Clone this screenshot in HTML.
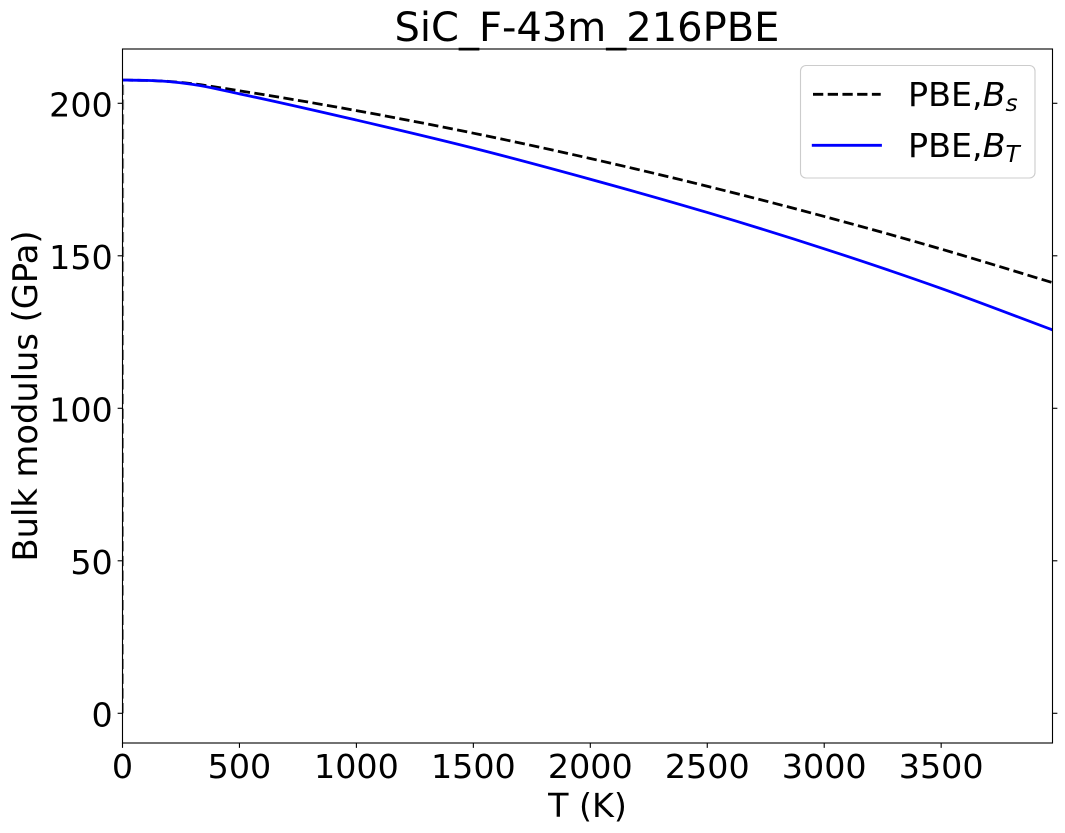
<!DOCTYPE html>
<html>
<head>
<meta charset="utf-8">
<title>SiC_F-43m_216PBE</title>
<style>
html,body{margin:0;padding:0;background:#fff;}
svg{display:block;}
text{font-family:"DejaVu Sans","Liberation Sans",sans-serif;fill:#000;}
</style>
</head>
<body>
<svg id="chart" xmlns="http://www.w3.org/2000/svg" width="1065" height="833" viewBox="0 0 1065 833">
  <defs><clipPath id="plot-clip"><rect x="122.5" y="49" width="930" height="694"/></clipPath></defs>
  <rect x="0" y="0" width="1065" height="833" fill="#fff"/>
  <g id="series-layer" clip-path="url(#plot-clip)"></g>
  <g id="axis-layer"></g>
  <rect x="122.5" y="49" width="930" height="694" fill="none" stroke="#000" stroke-width="1.11"/>
  <text x="587" y="41" font-size="40" text-anchor="middle">SiC_F-43m_216PBE</text>
  <text x="587.5" y="817" font-size="33.33" text-anchor="middle">T (K)</text>
  <text transform="translate(37 396) rotate(-90)" font-size="33.7" text-anchor="middle">Bulk modulus (GPa)</text>
  <g>
    <rect x="800.5" y="65.5" width="234.5" height="112.5" rx="5.5" ry="5.5" fill="#fff" fill-opacity="0.8" stroke="#ccc" stroke-width="1.11"/>
    <line x1="813" y1="94.3" x2="880.7" y2="94.3" stroke="#000" stroke-width="2.78" stroke-dasharray="10.28 4.44"/>
    <text x="908" y="106" font-size="33.33">PBE,<tspan font-style="italic">B</tspan><tspan font-style="italic" font-size="23.3" dy="5">s</tspan></text>
    <line x1="813.2" y1="145.3" x2="880.5" y2="145.3" stroke="#00f" stroke-width="2.78" stroke-linecap="square"/>
    <text x="908" y="157" font-size="33.33">PBE,<tspan font-style="italic">B</tspan><tspan font-style="italic" font-size="23.3" dy="5">T</tspan></text>
  </g>
</svg>
<script>
const temperatures = [1, 100, 200, 300, 500, 1000, 1500, 2000, 2500, 3000, 3500, 3976];
const bulkAdiabatic = [207.6, 207.5, 207.15, 206.4, 204.1, 197.6, 190.2, 181.9, 172.8, 162.9, 152.2, 141.2];
const bulkIsothermal = [207.6, 207.5, 207.1, 206.2, 203.1, 194.5, 185.3, 175.1, 164.2, 152.3, 139.3, 125.7];
const adiabaticStart = [0, 0];
const xTickValues = [0, 500, 1000, 1500, 2000, 2500, 3000, 3500];
const yTickValues = [0, 50, 100, 150, 200];

const NS = 'http://www.w3.org/2000/svg';
const plot = { left: 122.5, right: 1052.5, top: 49, bottom: 743 };
const xDomain = [0, 3976];
const yDomain = [-9.74, 217.8];

function xScale(t) {
  return plot.left + (t - xDomain[0]) / (xDomain[1] - xDomain[0]) * (plot.right - plot.left);
}
function yScale(v) {
  return plot.bottom - (v - yDomain[0]) / (yDomain[1] - yDomain[0]) * (plot.bottom - plot.top);
}

// Monotone cubic path through the data points, in pixel space.
function smoothPath(xs, ys) {
  const n = xs.length;
  const px = xs.map(xScale);
  const py = ys.map(yScale);
  const slopes = [];
  for (let i = 0; i < n - 1; i++) {
    slopes.push((py[i + 1] - py[i]) / (px[i + 1] - px[i]));
  }
  const tangents = [slopes[0]];
  for (let i = 1; i < n - 1; i++) {
    const h0 = px[i] - px[i - 1];
    const h1 = px[i + 1] - px[i];
    tangents.push(slopes[i - 1] * slopes[i] <= 0 ? 0 : (h0 * slopes[i] + h1 * slopes[i - 1]) / (h0 + h1));
  }
  tangents.push(slopes[n - 2]);
  let d = '';
  for (let i = 0; i < n - 1; i++) {
    const h = (px[i + 1] - px[i]) / 3;
    d += ' C' + (px[i] + h).toFixed(2) + ' ' + (py[i] + tangents[i] * h).toFixed(2) + ' ' +
      (px[i + 1] - h).toFixed(2) + ' ' + (py[i + 1] - tangents[i + 1] * h).toFixed(2) + ' ' +
      px[i + 1].toFixed(2) + ' ' + py[i + 1].toFixed(2);
  }
  return { d: d, startX: px[0], startY: py[0] };
}

const seriesLayer = document.getElementById('series-layer');
const axisLayer = document.getElementById('axis-layer');

const adiabaticCurve = smoothPath(temperatures, bulkAdiabatic);

const adiabaticRise = document.createElementNS(NS, 'path');


adiabaticRise.setAttribute('d', 'M' + xScale(adiabaticStart[0]) + ' ' + yScale(adiabaticStart[1]) +
  ' L' + adiabaticCurve.startX + ' ' + adiabaticCurve.startY);
adiabaticRise.setAttribute('fill', 'none');
adiabaticRise.setAttribute('stroke', '#000');
adiabaticRise.setAttribute('stroke-opacity', '0.5');
adiabaticRise.setAttribute('stroke-width', '2.78');
adiabaticRise.setAttribute('stroke-dasharray', '10.28 4.44');
seriesLayer.appendChild(adiabaticRise);

const adiabaticLine = document.createElementNS(NS, 'path');


adiabaticLine.setAttribute('d', 'M' + adiabaticCurve.startX + ' ' + adiabaticCurve.startY + adiabaticCurve.d);
adiabaticLine.setAttribute('fill', 'none');
adiabaticLine.setAttribute('stroke', '#000');
adiabaticLine.setAttribute('stroke-width', '2.78');
adiabaticLine.setAttribute('stroke-dasharray', '10.28 4.44');
seriesLayer.appendChild(adiabaticLine);

const isothermalCurve = smoothPath(temperatures, bulkIsothermal);
const isothermalLine = document.createElementNS(NS, 'path');


isothermalLine.setAttribute('d', 'M' + isothermalCurve.startX + ' ' + isothermalCurve.startY + isothermalCurve.d);
isothermalLine.setAttribute('fill', 'none');
isothermalLine.setAttribute('stroke', '#00f');
isothermalLine.setAttribute('stroke-width', '2.78');
seriesLayer.appendChild(isothermalLine);

xTickValues.forEach(function (value) {
  const x = xScale(value);
  const tick = document.createElementNS(NS, 'line');
  
  
  tick.setAttribute('x1', x);
  tick.setAttribute('x2', x);
  tick.setAttribute('y1', plot.bottom);
  tick.setAttribute('y2', plot.bottom + 4.86);
  tick.setAttribute('stroke', '#000');
  tick.setAttribute('stroke-width', '1.11');
  axisLayer.appendChild(tick);
  const label = document.createElementNS(NS, 'text');
  
  
  label.setAttribute('x', x);
  label.setAttribute('y', plot.bottom + 35);
  label.setAttribute('font-size', '33.33');
  label.setAttribute('text-anchor', 'middle');
  label.textContent = String(value);
  axisLayer.appendChild(label);
});

yTickValues.forEach(function (value) {
  const y = yScale(value);
  const leftTick = document.createElementNS(NS, 'line');
  
  
  leftTick.setAttribute('x1', plot.left - 4.86);
  leftTick.setAttribute('x2', plot.left);
  leftTick.setAttribute('y1', y);
  leftTick.setAttribute('y2', y);
  leftTick.setAttribute('stroke', '#000');
  leftTick.setAttribute('stroke-width', '1.11');
  axisLayer.appendChild(leftTick);
  const rightTick = document.createElementNS(NS, 'line');
  
  
  rightTick.setAttribute('x1', plot.right);
  rightTick.setAttribute('x2', plot.right + 4.86);
  rightTick.setAttribute('y1', y);
  rightTick.setAttribute('y2', y);
  rightTick.setAttribute('stroke', '#000');
  rightTick.setAttribute('stroke-width', '1.11');
  axisLayer.appendChild(rightTick);
  const label = document.createElementNS(NS, 'text');
  
  
  label.setAttribute('x', plot.left - 9.72);
  label.setAttribute('y', y + 13);
  label.setAttribute('font-size', '33.33');
  label.setAttribute('text-anchor', 'end');
  label.textContent = String(value);
  axisLayer.appendChild(label);
});
</script>
</body>
</html>
